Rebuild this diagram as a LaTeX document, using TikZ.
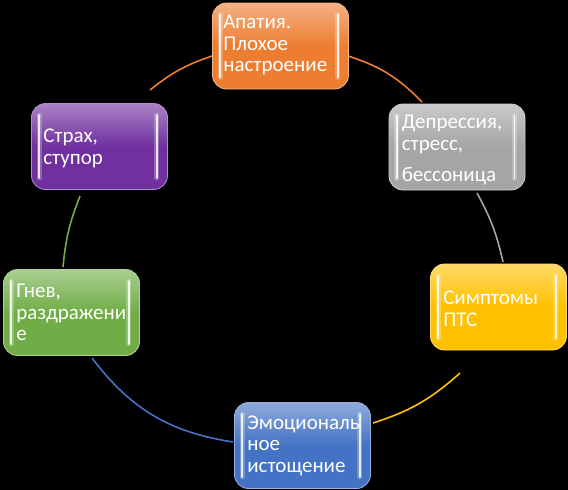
\documentclass[tikz,border=0pt]{standalone}
\usepackage{fontspec}
\setmainfont{Carlito}
\begin{document}
\begin{tikzpicture}[x=1pt,y=-1pt,
  box/.style={rounded corners=14pt, minimum width=136pt, minimum height=86pt, inner sep=0pt, draw=#1!55!white, line width=0.8pt, top color=#1!60!white, bottom color=#1, middle color=#1},
  boxtext/.style={anchor=west, align=left, text=white, inner sep=0pt, font=\fontsize{21}{21.5}\selectfont},
  bar/.style={line width=1.8pt, white, opacity=0.85, line cap=round},
  glow/.style={line width=5pt, white, opacity=0.25, line cap=round},
  arcline/.style={line width=1.6pt, #1}]
\definecolor{cOrange}{HTML}{ED7D31}
\definecolor{cGray}{HTML}{A5A5A5}
\definecolor{cYellow}{HTML}{FFC000}
\definecolor{cBlue}{HTML}{4472C4}
\definecolor{cGreen}{HTML}{70AD47}
\definecolor{cPurple}{HTML}{7030A0}
\useasboundingbox (0,0) rectangle (568,490);
\fill[black] (0,0) rectangle (568,490);

% arcs
\coordinate (a61) at (150,90);  \coordinate (a12) at (212,56);
\coordinate (a13) at (348,56);  \coordinate (a22) at (422,102);
\coordinate (a23) at (477,193); \coordinate (a32) at (503,262);
\coordinate (a33) at (460,373); \coordinate (a42) at (373,423);
\coordinate (a43) at (233,442); \coordinate (a52) at (92,358);
\coordinate (a53) at (63,267);  \coordinate (a62) at (80,196);
\draw[arcline=cOrange] (a61) to[bend left=10] (a12);
\draw[arcline=cOrange] (a13) to[bend left=14] (a22);
\draw[arcline=cGray]   (a23) to[bend left=8] (a32);
\draw[arcline=cYellow] (a33) to[bend left=12] (a42);
\draw[arcline=cBlue]   (a43) to[bend left=22] (a52);
\draw[arcline=cGreen]  (a53) to[bend left=8] (a62);

% boxes
\node[box=cOrange] (b1) at (280.5,46) {};
\node[box=cGray]   (b2) at (457,147) {};
\node[box=cYellow] (b3) at (498.5,307) {};
\node[box=cBlue]   (b4) at (302.5,445.5) {};
\node[box=cGreen]  (b5) at (71.5,312.5) {};
\node[box=cPurple] (b6) at (99.5,146.5) {};

\foreach \b in {b1,b2,b3,b4,b5,b6}{
  \draw[glow] ([shift={(8,12)}]\b.north west) -- ([shift={(8,-12)}]\b.south west);
  \draw[bar]  ([shift={(8,12)}]\b.north west) -- ([shift={(8,-12)}]\b.south west);
  \draw[glow] ([shift={(-11,12)}]\b.north east) -- ([shift={(-11,-12)}]\b.south east);
  \draw[bar]  ([shift={(-11,12)}]\b.north east) -- ([shift={(-11,-12)}]\b.south east);
}

% texts
\node[boxtext] (t1) at ([xshift=11pt,yshift=1pt]b1.west) {Апатия.\\Плохое\\настроение};
\node[boxtext] (t2) at ([xshift=13pt,yshift=-3pt]b2.west) {Депрессия,\\стресс,\\[10pt]бессоница};
\node[boxtext] (t3) at ([xshift=13pt,yshift=-2pt]b3.west) {Симптомы\\ПТС};
\node[boxtext] (t4) at ([xshift=13pt]b4.west) {Эмоциональ\\ное\\истощение};
\node[boxtext] (t5) at ([xshift=13pt]b5.west) {Гнев,\\раздражени\\е};
\node[boxtext] (t6) at ([xshift=12pt,yshift=-2pt]b6.west) {Страх,\\ступор};
\end{tikzpicture}
\end{document}
